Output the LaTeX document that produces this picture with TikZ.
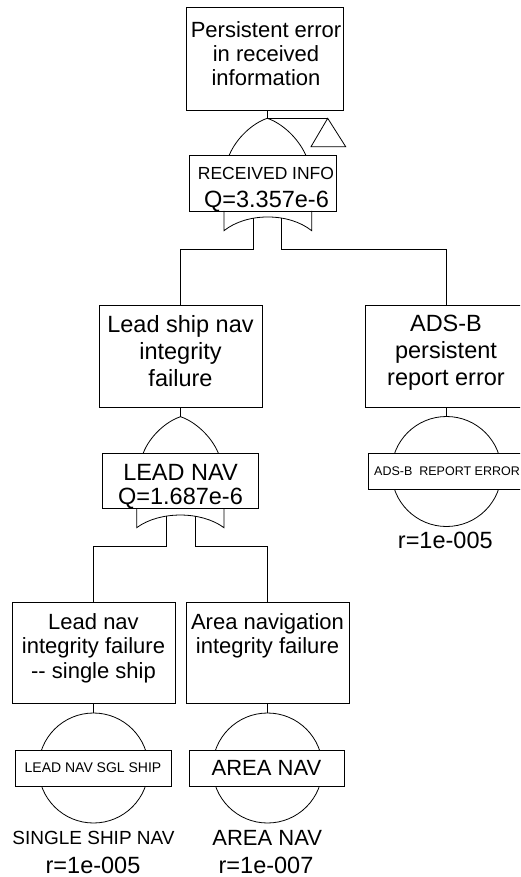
\documentclass[tikz,border=0pt]{standalone}
\usepackage{fontspec}
\setmainfont{Liberation Sans}
\newcommand\fsz[2]{\fontsize{#1}{#2}\selectfont}
\begin{document}
\begin{tikzpicture}[x=1pt,y=-1pt,line width=0.8pt,
  evbox/.style={draw,rectangle,inner sep=0pt,fill=white},
  lblbox/.style={draw,rectangle,inner sep=0pt,fill=white,minimum height=36pt},
  basic/.style={draw,circle,inner sep=0pt,minimum size=110pt},
  txt/.style={inner sep=0pt,align=center,anchor=north}]
\useasboundingbox (0,0) rectangle (520,877);
\clip (0,0) rectangle (520,877);

% ---------- event boxes ----------
\node[evbox,minimum width=157pt,minimum height=103pt] (top) at (264.5,58.5) {};
\node[txt,font=\fsz{22}{24}] (toptxt) at (266,20.7) {Persistent error\\in received\\information};

\node[evbox,minimum width=147pt,minimum height=56pt] (rcv) at (262.5,183) {};
\node[inner sep=0pt,font=\fsz{17.5}{20}] (rcvname) at (266,173) {RECEIVED INFO};
\node[inner sep=0pt,anchor=base,font=\fsz{23.5}{25}] (rcvq) at (266.5,207.5) {Q=3.357e-6};

\node[evbox,minimum width=163pt,minimum height=102pt] (lsn) at (180.5,356) {};
\node[txt,font=\fsz{23.5}{27}] (lsntxt) at (180.5,315) {Lead ship nav\\integrity\\failure};

\node[evbox,minimum width=163pt,minimum height=102pt] (ads) at (446.5,356) {};
\node[txt,font=\fsz{23.5}{27}] (adstxt) at (446,315) {ADS-B\\persistent\\report error};

\node[evbox,minimum width=156pt,minimum height=55pt] (lnav) at (180,480.5) {};
\node[inner sep=0pt,font=\fsz{23.5}{25}] (lnavname) at (180.5,472.5) {LEAD NAV};
\node[inner sep=0pt,anchor=base,font=\fsz{23.5}{25}] (lnavq) at (180.5,504.5) {Q=1.687e-6};

\node[evbox,minimum width=163pt,minimum height=101pt] (lns) at (93.5,652.5) {};
\node[txt,font=\fsz{22}{24.5}] (lnstxt) at (93.5,612.7) {Lead nav\\integrity failure\\-{}- single ship};

\node[evbox,minimum width=163pt,minimum height=101pt] (arn) at (267.5,652.5) {};
\node[txt,font=\fsz{22}{24.5}] (arntxt) at (267.5,612.7) {Area navigation\\integrity failure};

% ---------- OR gate under the top event, with transfer triangle ----------
\coordinate (g1apex) at (267.3,118.3);
\coordinate (tri) at (327.7,118.3);
\draw (top.south -| g1apex) -- (g1apex);
\draw (229.3,155) .. controls (236.3,138.3) and (252.3,123.3) .. (g1apex)
      .. controls (282.3,123.3) and (298.3,138.3) .. (305.7,155);
\draw (224,211) -- (224,230.7) .. controls (246.8,212.4) and (288.9,212.4) .. (311.7,230.7) -- (311.7,211);
\draw (g1apex) -- (tri);
\draw (tri) -- (345.7,146.7) -- (311,146.7) -- cycle;

\coordinate (g1oL) at (253.3,218.4);
\coordinate (g1oR) at (281.7,218.4);
\coordinate (bus1) at (0,249.3);
\draw (g1oL) |- (lsn.north |- bus1) -- (lsn.north);
\draw (g1oR) |- (ads.north |- bus1) -- (ads.north);

% ---------- OR gate under the lead ship event ----------
\coordinate (g2apex) at (180.5,416.7);
\draw (lsn.south -| g2apex) -- (g2apex);
\draw (143.3,453) .. controls (149.5,436.7) and (165.5,421.7) .. (g2apex)
      .. controls (195.5,421.7) and (211.5,436.7) .. (218.3,453);
\draw (136.7,508) -- (136.7,527.7) .. controls (159.4,510.8) and (201.3,510.8) .. (224,527.7) -- (224,508);

\coordinate (g2oL) at (166,516.3);
\coordinate (g2oR) at (195,516.3);
\coordinate (bus2) at (0,546);
\draw (g2oL) |- (lns.north |- bus2) -- (lns.north);
\draw (g2oR) |- (arn.north |- bus2) -- (arn.north);

% ---------- basic events ----------
\node[basic] (adsC) at (446.5,471.5) {};
\draw (ads.south) -- (adsC.north);
\node[lblbox,minimum width=158pt,font=\fsz{12.5}{14}] (adsL) at (447,471) {ADS-B\ \ REPORT ERROR};
\node[inner sep=0pt,font=\fsz{23.5}{25}] (adsR) at (445.3,540.5) {r=1e-005};

\node[basic] (lnsC) at (93.5,768) {};
\draw (lns.south) -- (lnsC.north);
\node[lblbox,minimum width=156pt,font=\fsz{14}{16}] (lnsL) at (93,768) {LEAD NAV SGL SHIP};
\node[inner sep=0pt,font=\fsz{19}{21}] (lnsN) at (93.5,837.5) {SINGLE SHIP NAV};
\node[inner sep=0pt,font=\fsz{23.5}{25}] (lnsR) at (93,865.5) {r=1e-005};

\node[basic] (arnC) at (267.5,768) {};
\draw (arn.south) -- (arnC.north);
\node[lblbox,minimum width=155pt,font=\fsz{22}{24}] (arnL) at (266.5,768) {AREA NAV};
\node[inner sep=0pt,font=\fsz{22}{24}] (arnN) at (267.2,837.5) {AREA NAV};
\node[inner sep=0pt,font=\fsz{23.5}{25}] (arnR) at (266,865.5) {r=1e-007};
\end{tikzpicture}
\end{document}
